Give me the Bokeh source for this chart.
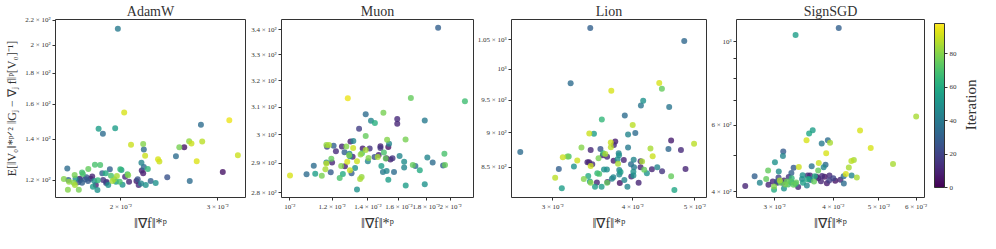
import math
import numpy as np
from bokeh.plotting import figure
from bokeh.models import ColumnDataSource, FixedTicker, LinearColorMapper, ColorBar
from bokeh.palettes import Viridis256
from bokeh.layouts import row
from bokeh.embed import file_html
from bokeh.resources import INLINE
from bokeh.transform import linear_cmap

# ---------------- data ----------------
titles = ["AdamW", "Muon", "Lion", "SignSGD"]

adamw_x = [0.01975, 0.02028, 0.01822, 0.01953, 0.01855, 0.03150, 0.02797, 0.02087, 0.02196, 0.02202,
           0.02555, 0.02608, 0.02662, 0.02688, 0.02812, 0.02519, 0.02214, 0.02337, 0.02350, 0.02748,
           0.03265, 0.02180, 0.02202, 0.02239, 0.02183, 0.02196, 0.01598, 0.01794, 0.01834, 0.01745,
           0.01910, 0.01995, 0.02005, 0.02056, 0.02062, 0.01648, 0.01700, 0.01706, 0.01850, 0.01877,
           0.01919, 0.01967, 0.02429, 0.03065, 0.02669, 0.01575, 0.01605, 0.01654, 0.01673, 0.01687,
           0.01700, 0.01724, 0.01743, 0.01762, 0.01774, 0.01731, 0.01789, 0.01816, 0.01857, 0.01884,
           0.01897, 0.01931, 0.01946, 0.01959, 0.01990, 0.02014, 0.02036, 0.02070, 0.02135, 0.02146,
           0.02155, 0.02177, 0.02220, 0.02266, 0.02314, 0.01641, 0.01650, 0.01684, 0.01602, 0.01677,
           0.01779, 0.01813, 0.01801, 0.01880, 0.01610]
adamw_y = [213.0, 155.0, 145.8, 146.1, 143.1, 150.6, 148.0, 137.3, 137.6, 134.8,
           136.0, 136.0, 139.1, 137.9, 139.0, 131.4, 131.7, 129.9, 128.8, 128.9,
           131.9, 128.2, 126.2, 125.2, 124.5, 123.2, 125.4, 127.2, 127.1, 125.2,
           125.1, 125.1, 124.7, 122.7, 122.3, 122.4, 123.6, 122.9, 123.2, 123.2,
           122.1, 121.9, 121.3, 123.8, 119.7, 120.5, 120.1, 120.7, 119.1, 120.1,
           118.9, 120.4, 119.6, 120.7, 121.7, 121.3, 119.6, 120.0, 120.1, 119.2,
           117.9, 119.6, 120.4, 119.3, 119.3, 118.0, 121.6, 119.3, 119.6, 120.4,
           117.8, 118.5, 117.8, 119.6, 118.7, 118.8, 117.9, 120.7, 115.8, 115.8,
           117.1, 115.6, 117.8, 118.7, 119.3]
adamw_it = [40, 92, 55, 55, 35, 95, 35, 90, 80, 35,
            78, 5, 82, 90, 88, 35, 90, 92, 90, 93,
            90, 45, 35, 65, 10, 8, 35, 70, 70, 75,
            30, 65, 55, 70, 80, 78, 68, 70, 30, 60,
            70, 85, 25, 5, 35, 80, 30, 50, 25, 25,
            30, 28, 28, 8, 10, 25, 50, 65, 15, 10,
            50, 85, 80, 55, 70, 50, 12, 10, 8, 25,
            12, 45, 50, 30, 50, 80, 85, 5, 80, 78,
            55, 50, 10, 20, 82]

muon_x = [0.01895, 0.01284, 0.01685, 0.02127, 0.01387, 0.01497, 0.01419, 0.01443, 0.01589, 0.01589,
          0.01789, 0.01348, 0.01387, 0.01521, 0.01647, 0.01315, 0.01299, 0.01534, 0.01171, 0.01184,
          0.01174, 0.01208, 0.01252, 0.01276, 0.01314, 0.01369, 0.01411, 0.01387, 0.01478, 0.01478,
          0.01529, 0.01220, 0.01266, 0.01293, 0.01296, 0.01311, 0.01291, 0.01357, 0.01365, 0.01441,
          0.01461, 0.01467, 0.01500, 0.01512, 0.01516, 0.01543, 0.01557, 0.01605, 0.01109, 0.01075,
          0.01116, 0.01148, 0.01166, 0.01171, 0.01171, 0.01193, 0.01196, 0.01200, 0.01240, 0.01248,
          0.01257, 0.01268, 0.01281, 0.01296, 0.01305, 0.01325, 0.01336, 0.01336, 0.01354, 0.01363,
          0.01400, 0.01404, 0.01484, 0.01494, 0.01518, 0.01529, 0.01567, 0.01637, 0.01637, 0.01648,
          0.01699, 0.01718, 0.01751, 0.01789, 0.01809, 0.01851, 0.01936, 0.01947, 0.01952, 0.01001]
muon_y = [340.7, 313.4, 313.5, 312.2, 307.5, 308.0, 305.1, 304.3, 305.7, 304.0,
          305.2, 302.2, 299.6, 298.3, 298.4, 297.8, 297.7, 296.9, 296.4, 296.4,
          295.8, 296.2, 295.9, 295.9, 295.4, 295.2, 295.2, 294.7, 296.0, 295.4,
          295.7, 294.2, 293.9, 293.4, 292.5, 292.3, 292.8, 293.1, 293.5, 292.2,
          292.2, 292.9, 293.8, 291.7, 291.8, 291.4, 291.8, 292.6, 289.2, 286.3,
          286.5, 285.8, 288.0, 290.0, 290.3, 287.0, 291.6, 290.3, 285.0, 289.1,
          286.4, 289.0, 290.6, 287.7, 286.6, 288.4, 290.8, 281.2, 284.7, 285.4,
          290.8, 291.9, 289.1, 287.1, 287.4, 284.4, 287.1, 290.6, 288.6, 282.5,
          289.5, 289.1, 287.7, 282.9, 292.1, 290.3, 289.3, 293.4, 289.5, 285.9]
muon_it = [30, 95, 75, 68, 35, 78, 45, 62, 12, 10,
           40, 18, 75, 80, 78, 45, 8, 45, 82, 85,
           20, 30, 10, 80, 90, 8, 15, 85, 10, 15,
           5, 12, 30, 45, 50, 10, 80, 82, 72, 25,
           85, 10, 70, 75, 5, 10, 15, 45, 35, 35,
           55, 78, 85, 88, 45, 28, 75, 10, 70, 80,
           60, 8, 92, 90, 30, 50, 90, 50, 85, 82,
           45, 80, 55, 40, 45, 55, 35, 48, 45, 55,
           75, 35, 60, 50, 45, 35, 30, 70, 75, 92]

lion_x = [0.03434, 0.04815, 0.03200, 0.03704, 0.04401, 0.04443, 0.04154, 0.04120, 0.04561, 0.03888,
          0.03580, 0.04000, 0.03422, 0.03480, 0.03934, 0.04038, 0.03697, 0.03757, 0.03738, 0.03698,
          0.03327, 0.03562, 0.03439, 0.03934, 0.04593, 0.04988, 0.04758, 0.04549, 0.04264, 0.04298,
          0.03111, 0.03163, 0.03178, 0.03277, 0.03238, 0.03067, 0.03399, 0.03419, 0.03459, 0.03439,
          0.03538, 0.03597, 0.03625, 0.03593, 0.03648, 0.03735, 0.03788, 0.03804, 0.03808, 0.03874,
          0.04014, 0.04115, 0.04138, 0.03976, 0.03795, 0.03811, 0.04019, 0.04010, 0.04115, 0.04169,
          0.04209, 0.04286, 0.04369, 0.04446, 0.04837, 0.04593, 0.03409, 0.03429, 0.03439, 0.03355,
          0.03517, 0.03522, 0.03546, 0.03608, 0.03646, 0.03648, 0.03493, 0.03577, 0.03027, 0.03100,
          0.03712, 0.03812, 0.03829, 0.03731, 0.03653, 0.03819, 0.03882, 0.03980, 0.04010, 0.04086,
          0.03925, 0.04647, 0.02670]
lion_y = [1070.5, 1048.0, 977.0, 965.0, 977.5, 968.0, 949.0, 941.5, 939.3, 925.9,
          920.0, 911.6, 899.0, 898.3, 897.5, 899.5, 885.5, 886.8, 882.0, 878.6,
          878.2, 876.1, 874.4, 878.2, 888.5, 883.8, 874.4, 876.1, 876.9, 865.4,
          864.1, 865.0, 865.0, 859.4, 850.9, 847.5, 856.8, 856.8, 854.3, 851.7,
          862.7, 870.0, 868.6, 866.9, 864.7, 859.0, 861.2, 869.8, 866.9, 860.2,
          860.7, 858.5, 858.1, 854.3, 854.7, 846.0, 850.0, 843.6, 850.0, 846.2,
          841.5, 847.1, 850.0, 844.4, 847.5, 837.3, 837.7, 830.0, 828.4, 833.4,
          828.8, 841.5, 840.6, 846.6, 846.6, 828.4, 822.8, 822.8, 835.1, 820.9,
          833.8, 839.8, 843.1, 835.9, 829.2, 828.0, 832.1, 836.8, 838.5, 828.4,
          822.8, 818.5, 871.5]
lion_it = [30, 33, 35, 92, 92, 75, 50, 38, 38, 35,
           65, 88, 90, 55, 45, 35, 90, 8, 12, 88,
           80, 25, 10, 40, 8, 88, 12, 33, 85, 90,
           90, 78, 70, 90, 50, 30, 10, 8, 12, 90,
           78, 65, 85, 8, 12, 8, 50, 45, 50, 10,
           45, 10, 85, 35, 85, 45, 40, 50, 10, 75,
           50, 10, 45, 15, 10, 75, 60, 55, 80, 80,
           10, 65, 70, 50, 48, 75, 55, 55, 88, 55,
           45, 45, 55, 45, 10, 5, 45, 10, 50, 10,
           45, 58, 35]

signsgd_x = [0.04108, 0.03325, 0.06004, 0.04560, 0.03616, 0.03553, 0.03508, 0.03894, 0.03779, 0.03937,
             0.04805, 0.03863, 0.03130, 0.03125, 0.03005, 0.02906, 0.03062, 0.03293, 0.03257, 0.03378,
             0.03598, 0.03725, 0.03851, 0.03815, 0.03714, 0.04316, 0.04370, 0.04424, 0.05360, 0.04254,
             0.04489, 0.04376, 0.04208, 0.04212, 0.04142, 0.04038, 0.04000, 0.03925, 0.03876, 0.03920,
             0.03785, 0.03765, 0.03714, 0.03683, 0.03654, 0.03639, 0.03570, 0.03528, 0.03559, 0.03575,
             0.03528, 0.03442, 0.03432, 0.03447, 0.03514, 0.03367, 0.03336, 0.03325, 0.03293, 0.03262,
             0.03243, 0.03206, 0.03183, 0.03164, 0.03141, 0.03141, 0.03122, 0.03215, 0.03262, 0.03077,
             0.03091, 0.03040, 0.03035, 0.02973, 0.02992, 0.02992, 0.02911, 0.02879, 0.02790, 0.02720,
             0.02598, 0.03058, 0.03833]
signsgd_y = [1086.0, 1041.0, 633.0, 582.0, 583.0, 571.0, 548.0, 548.0, 537.0, 540.0,
             523.0, 506.0, 512.0, 498.0, 479.5, 456.0, 453.0, 463.5, 449.0, 466.0,
             468.0, 477.0, 472.0, 465.0, 456.0, 464.0, 483.0, 486.0, 474.0, 446.5,
             437.0, 442.5, 440.0, 420.9, 431.0, 428.0, 435.0, 442.5, 421.7, 428.6,
             441.0, 427.0, 434.6, 438.8, 440.0, 426.0, 442.0, 442.0, 433.0, 430.0,
             432.0, 443.0, 433.0, 423.0, 416.0, 412.0, 424.0, 420.0, 418.0, 424.0,
             427.0, 418.8, 426.0, 418.8, 408.6, 429.0, 423.0, 438.0, 434.6, 429.0,
             423.0, 423.0, 426.5, 426.5, 413.6, 405.7, 418.0, 433.0, 423.0, 440.0,
             415.0, 437.0, 439.0]
signsgd_it = [30, 55, 85, 92, 55, 58, 92, 35, 40, 85,
              92, 92, 28, 45, 50, 75, 48, 28, 30, 90,
              38, 90, 35, 45, 75, 85, 88, 85, 85, 92,
              85, 45, 35, 35, 10, 5, 20, 12, 8, 18,
              12, 10, 10, 8, 60, 75, 10, 12, 45, 35,
              60, 50, 45, 55, 45, 10, 75, 58, 75, 50,
              72, 70, 75, 78, 50, 10, 12, 15, 65, 85,
              75, 10, 25, 10, 80, 60, 10, 75, 45, 30,
              10, 20, 5]

# tick values and their labels
adamw_xticks = [0.02, 0.03]
adamw_xlabels = ["2 × 10⁻²", "3 × 10⁻²"]
adamw_yticks = [120, 140, 160, 180, 200, 220]
adamw_ylabels = ["1.2 × 10²", "1.4 × 10²", "1.6 × 10²", "1.8 × 10²", "2 × 10²", "2.2 × 10²"]

muon_xticks = [0.01, 0.012, 0.014, 0.016, 0.018, 0.02]
muon_xlabels = ["10⁻²", "1.2 × 10⁻²", "1.4 × 10⁻²", "1.6 × 10⁻²", "1.8 × 10⁻²", "2 × 10⁻²"]
muon_yticks = [280, 290, 300, 310, 320, 330, 340]
muon_ylabels = ["2.8 × 10²", "2.9 × 10²", "3 × 10²", "3.1 × 10²", "3.2 × 10²", "3.3 × 10²", "3.4 × 10²"]

lion_xticks = [0.03, 0.04, 0.05]
lion_xlabels = ["3 × 10⁻²", "4 × 10⁻²", "5 × 10⁻²"]
lion_yticks = [850, 900, 950, 1000, 1050]
lion_ylabels = ["8.5 × 10²", "9 × 10²", "9.5 × 10²", "10³", "1.05 × 10³"]

signsgd_xticks = [0.03, 0.04, 0.05, 0.06]
signsgd_xlabels = ["3 × 10⁻²", "4 × 10⁻²", "5 × 10⁻²", "6 × 10⁻²"]
signsgd_yticks = [400, 500, 600, 700, 800, 900, 1000]
signsgd_ylabels = ["4 × 10²", "", "6 × 10²", "", "", "", "10³"]

colorbar_ticks = [0, 20, 40, 60, 80]
iter_low, iter_high = 0, 98

x_label = "‖∇f‖*ᵖ"
y_label = "E[‖V₀‖*ᵖᐟ² ‖Gⱼ − ∇ⱼ f‖ᵖ[V₀]⁻¹]"
cbar_label = "Iteration"

# ---------------- styling ----------------
SERIF = "Liberation Serif"
H = 233
TOP, BOTTOM = 18, 30


def make_panel(title, xs, ys, its, xr, yr, xt, xl, yt, yl, width, bl, br, ylab=None):
    p = figure(width=width, height=H, x_axis_type="log", y_axis_type="log",
               x_range=xr, y_range=yr, title=title,
               output_backend="svg", toolbar_location=None,
               min_border_left=bl, min_border_right=br,
               min_border_top=TOP, min_border_bottom=BOTTOM)
    p.grid.visible = False
    p.outline_line_color = "#333333"
    p.outline_line_width = 1
    p.background_fill_color = "white"
    p.border_fill_color = "white"
    p.title.text_font = SERIF
    p.title.text_font_size = "14px"
    p.title.text_font_style = "normal"
    p.title.align = "center"
    p.title.standoff = 2
    p.title.text_color = "#333333"

    p.xaxis.ticker = FixedTicker(ticks=xt)
    p.xaxis.major_label_overrides = {v: s for v, s in zip(xt, xl)}
    p.yaxis.ticker = FixedTicker(ticks=yt)
    p.yaxis.major_label_overrides = {v: s for v, s in zip(yt, yl)}
    for ax in (p.xaxis, p.yaxis):
        ax.axis_line_color = None
        ax.major_tick_line_color = "#333333"
        ax.major_tick_in = 0
        ax.major_tick_out = 3
        ax.minor_tick_line_color = None
        ax.major_label_text_font = SERIF
        ax.major_label_text_font_size = "7px"
        ax.major_label_text_color = "#333333"
        ax.major_label_standoff = 2
        ax.axis_label_text_font = SERIF
        ax.axis_label_text_font_style = "normal"
        ax.axis_label_text_color = "#333333"
    p.xaxis.axis_label = x_label
    p.xaxis.axis_label_text_font_size = "14px"
    p.xaxis.axis_label_standoff = 2
    if ylab:
        p.yaxis.axis_label = ylab
        p.yaxis.axis_label_text_font_size = "12px"
        p.yaxis.axis_label_standoff = 3

    order = np.argsort(np.array(its), kind="stable")
    src = ColumnDataSource(dict(x=np.array(xs)[order], y=np.array(ys)[order], it=np.array(its)[order]))
    p.scatter("x", "y", source=src, size=6,
              fill_color=linear_cmap("it", Viridis256, iter_low, iter_high),
              fill_alpha=0.8, line_color=None)
    return p


p1 = make_panel(titles[0], adamw_x, adamw_y, adamw_it, (0.01521, 0.03371), (112.4, 220.5),
                adamw_xticks, adamw_xlabels, adamw_yticks, adamw_ylabels, 246, 55, 1, ylab=y_label)
p2 = make_panel(titles[1], muon_x, muon_y, muon_it, (0.00965, 0.02207), (278.5, 344.1),
                muon_xticks, muon_xlabels, muon_yticks, muon_ylabels, 228, 35, 1)
p3 = make_panel(titles[2], lion_x, lion_y, lion_it, (0.02587, 0.05216), (808.3, 1085.9),
                lion_xticks, lion_xlabels, lion_yticks, lion_ylabels, 233, 37, 1)
p4 = make_panel(titles[3], signsgd_x, signsgd_y, signsgd_it, (0.02489, 0.06254), (386.7, 1144.0),
                signsgd_xticks, signsgd_xlabels, signsgd_yticks, signsgd_ylabels, 255, 29, 38)

mapper = LinearColorMapper(palette=Viridis256, low=iter_low, high=iter_high)
cb = ColorBar(color_mapper=mapper, ticker=FixedTicker(ticks=colorbar_ticks),
              width=10, height=164, padding=0, margin=0, location=(10, 10),
              bar_line_color="#333333", bar_line_width=1,
              major_tick_in=0, major_tick_out=3, major_tick_line_color="#333333",
              minor_tick_line_color=None, label_standoff=2,
              major_label_text_font=SERIF, major_label_text_font_size="7px",
              major_label_text_color="#333333",
              background_fill_color=None, border_line_color=None)
p4.add_layout(cb, "right")

# rotated colour-bar label in its own narrow strip to the right
pl = figure(width=16, height=H, x_range=(0, 1), y_range=(0, 1),
            output_backend="svg", toolbar_location=None,
            x_axis_location=None, y_axis_location=None,
            min_border_left=0, min_border_right=0, min_border_top=0, min_border_bottom=0)
pl.grid.visible = False
pl.outline_line_color = None
pl.text(x=[0.5], y=[0.52], text=[cbar_label], angle=math.pi / 2,
        text_align="center", text_baseline="middle",
        text_font=SERIF, text_font_size="15px", text_color="#333333")

layout = row(p1, p2, p3, p4, pl)
open("out.html", "w").write(file_html(layout, INLINE))
